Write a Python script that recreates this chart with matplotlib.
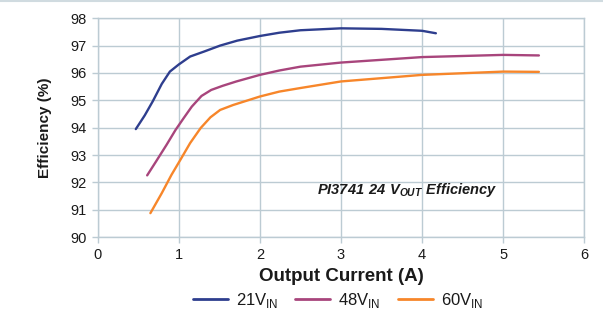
import matplotlib
matplotlib.use("Agg")
import matplotlib.pyplot as plt
from matplotlib.lines import Line2D

plt.rcParams['font.family'] = ['Liberation Sans', 'DejaVu Sans']
plt.rcParams['mathtext.fontset'] = 'custom'
plt.rcParams['mathtext.rm'] = 'Liberation Sans'
plt.rcParams['mathtext.sf'] = 'Liberation Sans:italic:bold'
plt.rcParams['mathtext.bf'] = 'Liberation Sans:bold'

# Data
x21 = [0.47, 0.58, 0.68, 0.79, 0.89, 1.0, 1.14, 1.31, 1.51, 1.72, 2.0, 2.24, 2.5, 3.0, 3.5, 4.0, 4.17]
y21 = [93.95, 94.45, 94.97, 95.6, 96.05, 96.31, 96.6, 96.78, 97.0, 97.18, 97.35, 97.47, 97.56, 97.63, 97.61, 97.54, 97.45]

x48 = [0.61, 0.72, 0.85, 0.96, 1.06, 1.16, 1.28, 1.40, 1.54, 1.71, 2.0, 2.24, 2.5, 3.0, 4.0, 5.0, 5.44]
y48 = [92.26, 92.77, 93.38, 93.92, 94.35, 94.77, 95.16, 95.38, 95.53, 95.69, 95.93, 96.09, 96.23, 96.38, 96.58, 96.66, 96.64]

x60 = [0.65, 0.79, 0.91, 1.02, 1.14, 1.27, 1.39, 1.51, 1.67, 1.83, 2.0, 2.24, 2.5, 3.0, 4.0, 5.0, 5.44]
y60 = [90.88, 91.61, 92.28, 92.83, 93.44, 93.99, 94.38, 94.65, 94.83, 94.98, 95.14, 95.32, 95.45, 95.69, 95.93, 96.05, 96.04]

labels = ["21V$_{\\mathregular{IN}}$", "48V$_{\\mathregular{IN}}$", "60V$_{\\mathregular{IN}}$"]
colors = ["#2e3e8e", "#a8457c", "#f7862a"]
xticks = [0, 1, 2, 3, 4, 5, 6]
yticks = [90, 91, 92, 93, 94, 95, 96, 97, 98]

grid_c = "#bccbd3"
text_c = "#1a1a1a"

fig = plt.figure(figsize=(6.03, 3.25), dpi=100)
ax = fig.add_axes([0.162, 0.270, 0.807, 0.674])

for xs, ys, c, lab in [(x21, y21, colors[0], labels[0]),
                       (x48, y48, colors[1], labels[1]),
                       (x60, y60, colors[2], labels[2])]:
    ax.plot(xs, ys, color=c, lw=1.7, label=lab, solid_joinstyle='round', solid_capstyle='round')

ax.set_xlim(0, 6)
ax.set_ylim(90, 98)
ax.set_xticks(xticks)
ax.set_yticks(yticks)
ax.grid(True, color=grid_c, lw=1.0)
ax.set_axisbelow(True)
for s in ax.spines.values():
    s.set_color(grid_c)
    s.set_linewidth(1.0)
ax.tick_params(axis='both', colors=grid_c, length=4, width=1.0, labelsize=10.5,
               labelcolor=text_c, pad=4)

ax.set_xlabel("Output Current (A)", fontsize=13.5, fontweight='bold', color=text_c, labelpad=4)
ax.set_ylabel("Efficiency (%)", fontsize=11, fontweight='bold', color=text_c, labelpad=13)

ax.text(2.71, 91.73, r"$\mathsf{PI3741\ 24\ V_{OUT}\ Efficiency}$", fontsize=10.5,
        color=text_c, ha='left', va='center')

leg = ax.legend(loc='center', ncol=3, frameon=False,
                fontsize=12, handlelength=2.1, columnspacing=1.0, handletextpad=0.5,
                bbox_to_anchor=(338 / 603, 1 - 300 / 325), bbox_transform=fig.transFigure)
for t in leg.get_texts():
    t.set_color(text_c)
for h in leg.get_lines():
    h.set_linewidth(2.0)

fig.add_artist(Line2D([0, 1], [0.997, 0.997], transform=fig.transFigure, color="#d0dbe0", lw=1.5))

fig.savefig("out.png", dpi=100)
